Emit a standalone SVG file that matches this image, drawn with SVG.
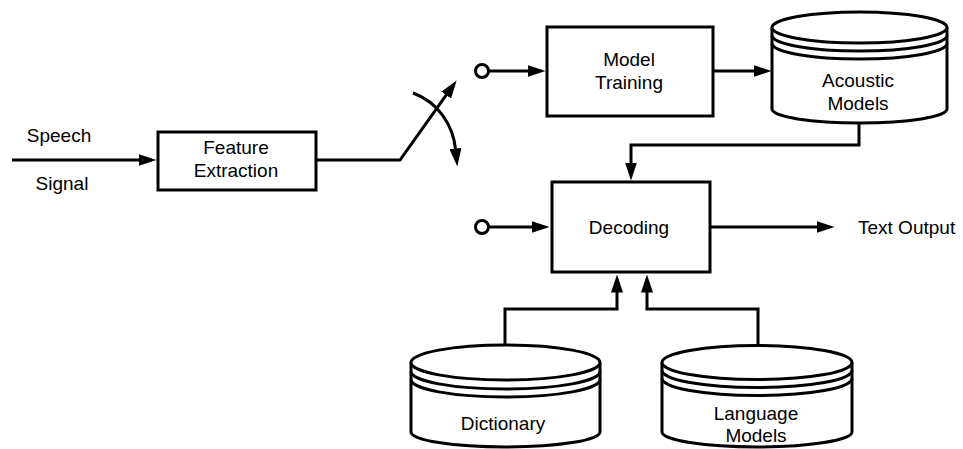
<svg xmlns="http://www.w3.org/2000/svg" width="963" height="449" viewBox="0 0 963 449">
  <style>
    .box { fill: #fff; stroke: #000; stroke-width: 3; }
    .cyl { fill: #fff; stroke: #000; stroke-width: 3; }
    .ring { fill: none; stroke: #000; stroke-width: 3; }
    .wire { fill: none; stroke: #000; stroke-width: 3; }
    .arrow { marker-end: url(#ah); }
    text { font-family: "Liberation Sans", Arial, sans-serif; font-size: 19px; fill: #000; }
    .c { text-anchor: middle; }
  </style>
  <defs>
    <marker id="ah" viewBox="0 0 18 12" markerWidth="18" markerHeight="12" refX="0.5" refY="6" orient="auto" markerUnits="userSpaceOnUse">
      <path d="M0,0 L18,6 L0,12 z" fill="#000"/>
    </marker>
  </defs>

  <!-- connectors -->
  <g id="connectors">
    <path class="wire arrow" d="M12,160 H139"/>
    <path class="wire arrow" d="M316,160 H400 L446.5,94.7"/>
    <path class="wire arrow" d="M413,93 C438,102 453,125 455.5,149"/>
    <circle class="ring" cx="482" cy="71" r="6.5"/>
    <path class="wire arrow" d="M488.5,71 H528"/>
    <path class="wire arrow" d="M713,71 H754"/>
    <path class="wire arrow" d="M859,123 V145 H631 V163"/>
    <circle class="ring" cx="482" cy="227" r="6.5"/>
    <path class="wire arrow" d="M488.5,227 H532"/>
    <path class="wire arrow" d="M710,227 H817"/>
    <path class="wire arrow" d="M505,345 V309 H617 V292"/>
    <path class="wire arrow" d="M758,346 V309 H647 V292"/>
  </g>

  <!-- input labels -->
  <g id="speech-signal">
    <text class="c" x="59" y="142">Speech</text>
    <text class="c" x="62" y="190">Signal</text>
  </g>

  <g id="feature-extraction">
    <rect class="box" x="158" y="132" width="158" height="58"/>
    <text class="c" x="236" y="154">Feature</text>
    <text class="c" x="236" y="177">Extraction</text>
  </g>

  <g id="model-training">
    <rect class="box" x="547" y="27" width="166" height="89"/>
    <text class="c" x="629" y="66">Model</text>
    <text class="c" x="629" y="89">Training</text>
  </g>

  <g id="acoustic-models">
    <path class="cyl" d="M772,27.5 V109 A87.5,14 0 0 0 947,109 V27.5"/>
    <ellipse class="cyl" cx="859.5" cy="27.5" rx="87.5" ry="15.5"/>
    <path class="wire" d="M772,35.5 A87.5,15.5 0 0 0 947,35.5"/>
    <path class="wire" d="M772,43.5 A87.5,15.5 0 0 0 947,43.5"/>
    <text class="c" x="858" y="87">Acoustic</text>
    <text class="c" x="858" y="110">Models</text>
  </g>

  <g id="decoding">
    <rect class="box" x="552" y="182" width="158" height="90"/>
    <text class="c" x="629" y="234">Decoding</text>
  </g>

  <g id="text-output">
    <text x="858" y="234">Text Output</text>
  </g>

  <g id="dictionary">
    <path class="cyl" d="M411,362.5 V432 A94.5,15 0 0 0 600,432 V362.5"/>
    <ellipse class="cyl" cx="505.5" cy="362.5" rx="94.5" ry="17.5"/>
    <path class="wire" d="M411,371.5 A94.5,17.5 0 0 0 600,371.5"/>
    <path class="wire" d="M411,379.5 A94.5,17.5 0 0 0 600,379.5"/>
    <text class="c" x="503" y="430">Dictionary</text>
  </g>

  <g id="language-models">
    <path class="cyl" d="M662,362.5 V432 A95,15 0 0 0 852,432 V362.5"/>
    <ellipse class="cyl" cx="757" cy="362.5" rx="95" ry="17"/>
    <path class="wire" d="M662,370.5 A95,17 0 0 0 852,370.5"/>
    <path class="wire" d="M662,378.5 A95,17 0 0 0 852,378.5"/>
    <text class="c" x="756" y="420">Language</text>
    <text class="c" x="756" y="442">Models</text>
  </g>
</svg>
